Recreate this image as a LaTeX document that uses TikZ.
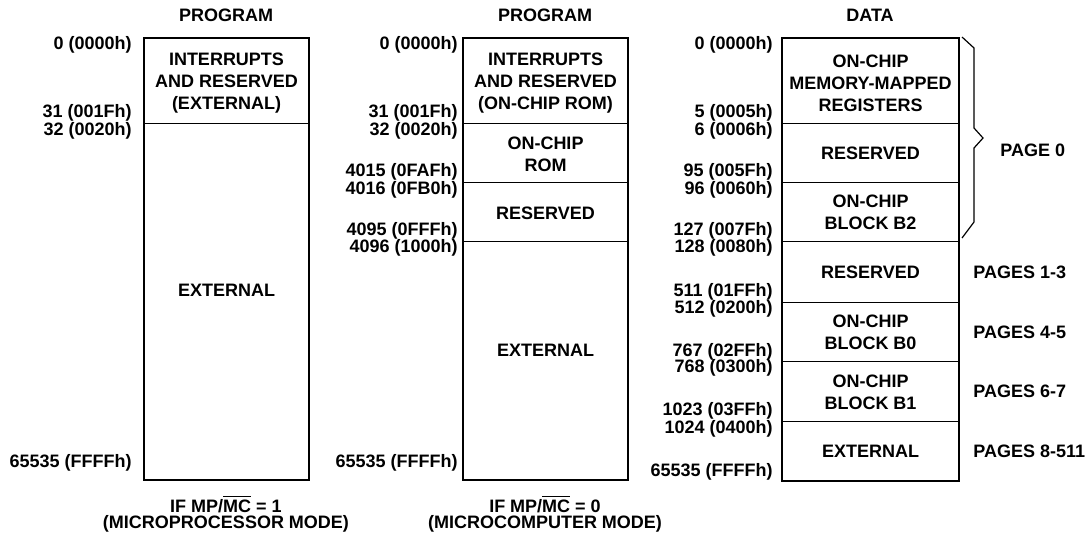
\documentclass[tikz,border=0pt]{standalone}
\usepackage{fontspec}
\setmainfont{Liberation Sans}
\begin{document}
\begin{tikzpicture}[x=0.5pt, y=-0.5pt,
    every node/.style={font=\fontsize{9}{11}\selectfont\bfseries, inner sep=0pt, align=center},
    addr/.style={anchor=east},
    page/.style={anchor=west},
    frame/.style={line width=1pt},
    divider/.style={line width=0.5pt}]
    \useasboundingbox (0,0) rectangle (1090,537);

    % Titoli
    \node (progA) at (226,15) {PROGRAM};
    \node (progB) at (545,15) {PROGRAM};
    \node (data)  at (870,15) {DATA};

    % Mappa programma, MP/MC = 1
    \draw[frame] (144,38) rectangle (309,480);
    \draw[divider] (144,123) -- (309,123);
    \node (intA) at (226.5,83) {INTERRUPTS\\AND RESERVED\\(EXTERNAL)};
    \node (extA) at (226.5,290) {EXTERNAL};
    \node[addr] (a0)  at (132,45)  {0 (0000h)};
    \node[addr] (a31) at (132,113) {31 (001Fh)};
    \node[addr] (a32) at (132,131) {32 (0020h)};
    \node[addr] (aE)  at (132,463) {65535 (FFFFh)};
    \node (modeA) at (226,504) {IF MP/$\overline{\mbox{MC}}$ = 1};
    \node (modeAb) at (226,524) {(MICROPROCESSOR MODE)};

    % Mappa programma, MP/MC = 0
    \draw[frame] (463,38) rectangle (628,480);
    \draw[divider] (463,123) -- (628,123);
    \draw[divider] (463,182) -- (628,182);
    \draw[divider] (463,241) -- (628,241);
    \node (intB) at (545.5,83) {INTERRUPTS\\AND RESERVED\\(ON-CHIP ROM)};
    \node (romB) at (545.5,154) {ON-CHIP\\ROM};
    \node (resB) at (545.5,213) {RESERVED};
    \node (extB) at (545.5,350) {EXTERNAL};
    \node[addr] (b0)    at (458,45)  {0 (0000h)};
    \node[addr] (b31)   at (458,113) {31 (001Fh)};
    \node[addr] (b32)   at (458,131) {32 (0020h)};
    \node[addr] (b4015) at (458,172) {4015 (0FAFh)};
    \node[addr] (b4016) at (458,190) {4016 (0FB0h)};
    \node[addr] (b4095) at (458,231) {4095 (0FFFh)};
    \node[addr] (b4096) at (458,248) {4096 (1000h)};
    \node[addr] (bE)    at (458,463) {65535 (FFFFh)};
    \node (modeB) at (545,504) {IF MP/$\overline{\mbox{MC}}$ = 0};
    \node (modeBb) at (545,524) {(MICROCOMPUTER MODE)};

    % Mappa dati
    \draw[frame] (782,38) rectangle (959,481);
    \draw[divider] (782,123) -- (959,123);
    \draw[divider] (782,182) -- (959,182);
    \draw[divider] (782,241) -- (959,241);
    \draw[divider] (782,302) -- (959,302);
    \draw[divider] (782,361) -- (959,361);
    \draw[divider] (782,421) -- (959,421);
    \node (mmr)  at (870.5,83)  {ON-CHIP\\MEMORY-MAPPED\\REGISTERS};
    \node (resC) at (870.5,153) {RESERVED};
    \node (b2)   at (870.5,212) {ON-CHIP\\BLOCK B2};
    \node (resD) at (870.5,272) {RESERVED};
    \node (b0blk) at (870.5,332) {ON-CHIP\\BLOCK B0};
    \node (b1blk) at (870.5,392) {ON-CHIP\\BLOCK B1};
    \node (extC) at (870.5,451) {EXTERNAL};
    \node[addr] (c0)    at (773,45)  {0 (0000h)};
    \node[addr] (c5)    at (773,113) {5 (0005h)};
    \node[addr] (c6)    at (773,131) {6 (0006h)};
    \node[addr] (c95)   at (773,172) {95 (005Fh)};
    \node[addr] (c96)   at (773,190) {96 (0060h)};
    \node[addr] (c127)  at (773,231) {127 (007Fh)};
    \node[addr] (c128)  at (773,248) {128 (0080h)};
    \node[addr] (c511)  at (773,292) {511 (01FFh)};
    \node[addr] (c512)  at (773,309) {512 (0200h)};
    \node[addr] (c767)  at (773,352) {767 (02FFh)};
    \node[addr] (c768)  at (773,368) {768 (0300h)};
    \node[addr] (c1023) at (773,411) {1023 (03FFh)};
    \node[addr] (c1024) at (773,429) {1024 (0400h)};
    \node[addr] (cE)    at (773,472) {65535 (FFFFh)};

    % Pagine
    \node[page] (pg0)  at (1000,150) {PAGE 0};
    \node[page] (pg13) at (973,272) {PAGES 1-3};
    \node[page] (pg45) at (973,332) {PAGES 4-5};
    \node[page] (pg67) at (973,391) {PAGES 6-7};
    \node[page] (pg8)  at (973,451) {PAGES 8-511};

    % Graffa pagina 0
    \coordinate (brTop) at (962,37);
    \coordinate (brTip) at (983,138);
    \coordinate (brBot) at (962,238);
    \draw[line width=0.6pt] (brTop) -- (974,48) -- (974,128) -- (brTip)
        -- (974,148) -- (974,222) -- (brBot);
\end{tikzpicture}
\end{document}
